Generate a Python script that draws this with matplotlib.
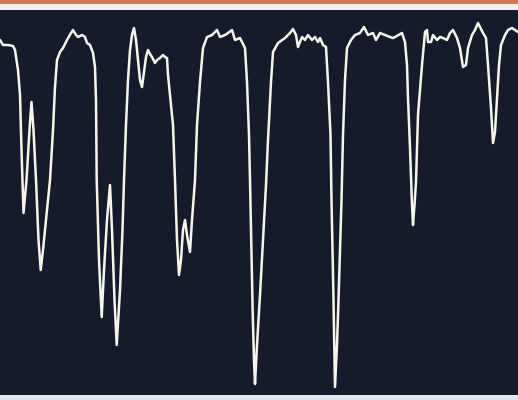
import matplotlib
matplotlib.use("Agg")
import matplotlib.pyplot as plt
from matplotlib.patches import Rectangle

# Trace of the spectrum: horizontal position and depth of the trace below the top of the frame (px)
wavenumber = [0, 3, 8, 13, 15, 18, 20, 21.5, 23.5, 26.5, 29.5, 31.5, 33.5, 36, 38.5, 40.7, 43, 47, 50,
              53, 55, 57, 60, 63, 67, 71, 73, 76, 78, 82, 85, 87, 90, 93, 95, 96, 96.7, 99, 101.7,
              104, 107, 110, 112, 114.5, 116.7, 120, 122.5, 124, 126, 128, 130, 132, 134, 136, 138,
              140, 142, 144, 146, 148, 150, 152, 155, 157, 160, 163, 165, 167, 168, 170, 173, 175,
              177, 179, 181, 183, 185, 187, 190, 192, 195, 197, 200, 203, 207, 212, 215, 217, 220,
              225, 228, 232, 235, 240, 245, 247, 249, 250, 252.7, 254, 255, 257, 260, 263,
              266, 268, 269.5, 271, 273, 278, 285, 290, 293, 296, 298, 302, 305, 308, 312, 315,
              318, 320, 323, 326, 328, 330.5, 331.5, 333.5, 335, 337, 338.5, 341.5, 343, 345, 347,
              351, 355, 360, 364, 368, 373, 376, 380, 385, 390, 393, 395, 402, 405, 407, 408, 410,
              412, 413, 414.5, 416, 418, 422, 425, 427, 428, 431, 433, 437, 440, 443, 447, 450, 453,
              457, 460, 463, 466, 468, 472, 475, 478, 480, 483, 486, 488, 491, 493, 495, 497, 499,
              501, 503, 505, 508, 512, 515, 518]
depth_px = [40, 45, 45, 46, 50, 70, 95, 150, 213, 180, 130, 102, 130, 180, 240, 270, 250, 210, 180,
            130, 87, 60, 52, 48, 40, 33, 30, 35, 37, 35, 37, 43, 45, 53, 67, 100, 180, 260, 317,
            270, 220, 185, 230, 300, 345, 290, 230, 180, 125, 80, 50, 35, 28, 40, 60,
            80, 87, 72, 57, 50, 54, 57, 63, 60, 58, 55, 57, 58, 75, 95, 125, 180,
            240, 275, 260, 230, 220, 235, 252, 220, 180, 125, 82, 48, 37, 35, 32, 30, 37,
            35, 33, 30, 40, 38, 48, 82, 135, 180, 313, 360, 384, 345, 295, 240,
            185, 140, 110, 82, 52, 43, 38, 33, 29, 35, 47, 37, 40, 35, 40, 37,
            42, 38, 45, 47, 82, 135, 200, 300, 387, 345, 300, 200, 135, 80, 48,
            40, 35, 33, 27, 35, 33, 40, 33, 35, 37, 38, 37, 33, 42, 65, 98, 148,
            205, 225, 205, 182, 115, 65, 32, 30, 42, 42, 35, 40, 37, 38, 40, 33, 30,
            38, 48, 67, 65, 48, 35, 30, 23, 27, 33, 38, 65, 108, 143, 132, 98, 65,
            45, 40, 35, 30, 28, 30, 32]
panel_bottom_px = 395
signal = [panel_bottom_px - d for d in depth_px]

W, H = 518, 400
fig = plt.figure(figsize=(W / 100, H / 100), dpi=100)
fig.patch.set_facecolor("#dfe6ef")

# top orange and white strips
fig.add_artist(Rectangle((0, 1 - 4.5 / H), 1, 4.5 / H, transform=fig.transFigure,
                         facecolor="#cf7957", edgecolor="none", zorder=0))
fig.add_artist(Rectangle((0, 1 - 10 / H), 1, 5.5 / H, transform=fig.transFigure,
                         facecolor="#f4eeee", edgecolor="none", zorder=0))

ax = fig.add_axes([0, 5 / H, 1, 385 / H])
ax.set_facecolor("#151a2d")
ax.plot(wavenumber, signal, color="#f6f5ea", lw=1.8, solid_joinstyle="round",
        solid_capstyle="round")
ax.set_xlim(0, 518)
ax.set_ylim(0, 385)
ax.set_xticks([])
ax.set_yticks([])
for s in ax.spines.values():
    s.set_visible(False)

fig.savefig("out.png", dpi=100, facecolor=fig.get_facecolor())
